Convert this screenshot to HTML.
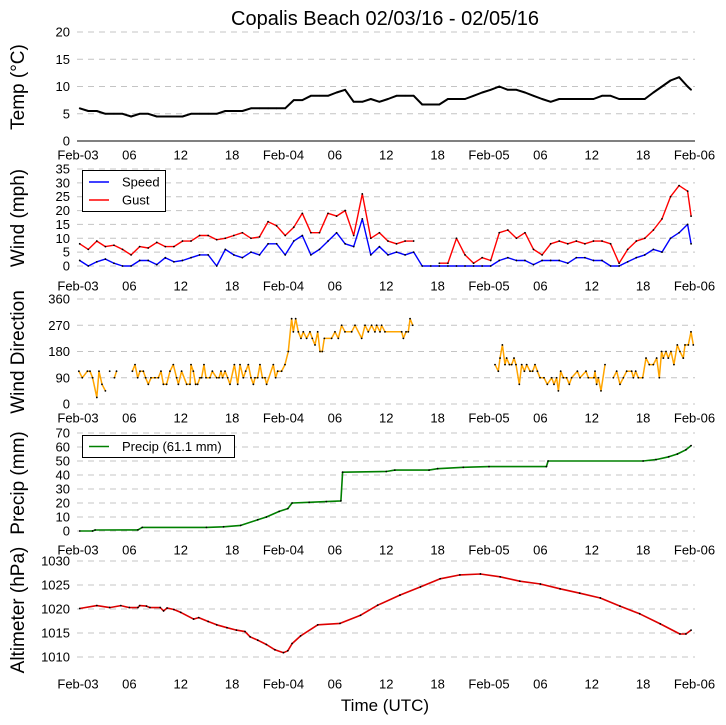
<!DOCTYPE html>
<html><head><meta charset="utf-8"><style>
html,body{margin:0;padding:0;background:#fff;}
svg{display:block;font-family:"Liberation Sans","DejaVu Sans",sans-serif;}
</style></head><body>
<svg id="chart" width="726" height="725" viewBox="0 0 726 725" xmlns="http://www.w3.org/2000/svg">
<text x="385" y="25" font-size="20" text-anchor="middle">Copalis Beach 02/03/16 - 02/05/16</text>
<text x="385" y="711" font-size="17" text-anchor="middle">Time (UTC)</text>
<g id="layer"></g>
</svg>
<script>
const xTickLabels=["Feb-03","06","12","18","Feb-04","06","12","18","Feb-05","06","12","18","Feb-06"];
const tempTicks=[0,5,10,15,20];
const windTicks=[0,5,10,15,20,25,30,35];
const dirTicks=[0,90,180,270,360];
const precipTicks=[0,10,20,30,40,50,60,70];
const altTicks=[1010,1015,1020,1025,1030];
const hours=[];
for(let i=0;i<72;i++)hours.push(i+0.2);
hours.push(71.6);
const tempValues=[6,5.5,5.5,5,5,5,4.5,5,5,4.5,4.5,4.5,4.5,5,5,5,5,5.5,5.5,5.5,6,6,6,6,6,7.5,7.5,8.3,8.3,8.3,8.9,9.4,7.2,7.2,7.7,7.2,7.7,8.3,8.3,8.3,6.7,6.7,6.7,7.7,7.7,7.7,8.3,8.9,9.4,10,9.4,9.4,8.9,8.3,7.7,7.2,7.7,7.7,7.7,7.7,7.7,8.3,8.3,7.7,7.7,7.7,7.7,8.9,10,11.1,11.7,10,9.4];
const speedValues=[2,0,1.5,2.5,1,0,0,2,2,0.5,3,1.5,2,3,4,4,0,6,4,3,5,4,8,8,4,9,11,4,6,9,12,8,7,17,4,7,4,5,4,5,0,0,0,0,0,0,0,0,0,2,3,2,2,0.5,2,2,2,1,3,3,2,2,0,0,1.5,3,4,6,5,10,12,15,8];
const gustValues=[8,6,9,7,7.5,6,4,7,6.5,8.5,7,7,9,9,11,11,9.5,10,11,12,10,10.5,16,14.5,11,14,19,12,12,19,18,20,11,26,10,12,9,8,9,9,null,null,1,1,10,4,1,3,2,12,13,10,12,6,4,8,9,8,9,8,9,9,8,1,6,9,10,13,17,25,29,27,18];
const dirData=[[0.1,112.5],[0.5,90],[1.1,112.5],[1.4,112.5],[1.7,90],[2.2,22.5],[2.45,112.5],[2.8,67.5],[3.2,45],null,[3.7,112.5],null,[4.25,90],[4.5,112.5],null,
[6.35,112.5],[6.66,135],[6.97,90],[7.24,112.5],[7.63,112.5],[7.9,90],[8.21,67.5],[8.52,90],[8.99,90],[9.38,90],[9.69,112.5],[9.97,67.5],[10.35,67.5],[10.74,112.5],[11.13,135],[11.52,90],[11.72,67.5],[12.1,112.5],[12.69,67.5],[13.08,67.5],[13.2,135],[13.47,112.5],[13.74,67.5],[13.97,67.5],[14.25,90],[14.44,90],[14.71,135],[14.95,90],[15.41,90],[15.69,112.5],[16.19,90],[16.47,90],[16.7,112.5],[16.89,90],[17.17,112.5],[17.48,90],[17.75,67.5],[18.26,135],[18.65,67.5],[18.92,135],[19.31,90],[19.58,112.5],[19.89,135],[20.2,90],[20.48,67.5],[20.67,90],[20.98,90],[21.25,135],[21.53,90],[21.84,90],[22.03,67.5],[22.81,135],[23.08,90],[23.32,112.5],[23.78,112.5],[24.17,135],[24.56,180],[24.95,292.5],[25.15,247.5],[25.42,292.5],[25.73,247.5],[26.04,225],[26.31,247.5],[26.7,225],[27.09,247.5],[27.36,225],[27.68,202.5],[27.99,247.5],[28.26,180],[28.53,180],[28.77,225],[29.62,225],[30.01,247.5],[30.4,225],[30.79,270],[31.18,247.5],[31.96,247.5],[32.35,270],[33.13,225],[33.52,270],[33.9,247.5],[34.29,270],[34.68,247.5],[34.88,270],[35.27,247.5],[35.46,270],[35.85,247.5],[37.8,247.5],[38.0,225],[38.31,247.5],[38.58,247.5],[38.78,292.5],[39.09,270],null,
[48.7,135],[49.09,112.5],[49.29,157.5],[49.56,202.5],[49.87,135],[50.06,157.5],[50.38,135],[50.65,135],[50.92,157.5],[51.15,135],[51.54,67.5],[51.82,135],[52.13,112.5],[52.4,135],[52.79,112.5],[53.1,112.5],[53.37,135],[53.65,112.5],[53.96,90],[54.42,90],[54.81,67.5],[55.32,90],[55.59,67.5],[55.9,90],[56.1,45],[56.37,112.5],[56.68,90],[57.07,90],[57.38,67.5],[57.65,90],[58.32,112.5],[58.63,90],[59.33,112.5],[59.6,90],[60.26,90],[60.38,112.5],[60.57,67.5],[60.77,90],[61.08,45],[61.55,135],null,
[62.52,90],[62.91,112.5],[63.3,67.5],[63.69,90],[64.08,112.5],[64.66,112.5],[64.86,90],[65.13,112.5],[65.44,90],[65.95,90],[66.34,157.5],[66.72,135],[67.19,135],[67.58,157.5],[67.89,90],[68.16,180],[68.36,157.5],[68.67,180],[68.94,157.5],[69.25,180],[69.6,135],[69.99,202.5],[70.3,180],[70.69,157.5],[70.89,202.5],[71.28,202.5],[71.59,247.5],[71.86,202.5]];
const precipTimes=[0.2,1.7,2,7,7.5,15,17,19,21,22,23.5,24.5,25,27,29,30.7,30.9,36,37,41,42,45,48,54.7,54.9,66,67.5,69,70,71,71.6];
const precipValues=[0,0,0.7,0.8,2.6,2.6,3,4,8,10,14,16,20,20.5,21,21.5,42,42.5,43.5,43.5,44.5,45.5,46,46,50,50,51,53,55,58,61];
const altTimes=[0.2,2.2,3.7,5,6,7,7.2,8,8.4,9.6,10,10.4,11.2,12,13.5,14.1,15.2,16.2,17.4,18.5,19.5,20.1,21,22,23,24,24.5,25,26,28,30.6,33,35,37.6,40,42.3,44.6,47,49.3,51.6,54,56.3,58.6,61,63.3,65.6,68,70.3,71,71.6];
const altValues=[1020.1,1020.7,1020.3,1020.7,1020.3,1020.3,1020.7,1020.6,1020.3,1020.3,1019.6,1020.2,1019.9,1019.3,1017.9,1018.2,1017.4,1016.7,1016.1,1015.6,1015.3,1014.2,1013.5,1012.6,1011.5,1010.9,1011.3,1012.8,1014.4,1016.7,1017,1018.7,1020.8,1022.9,1024.6,1026.3,1027.1,1027.3,1026.7,1025.8,1025.2,1024.2,1023.3,1022.3,1020.6,1019,1016.9,1014.8,1014.8,1015.6];

const NS="http://www.w3.org/2000/svg";
const layer=document.getElementById('layer');
const X0=78, PXH=205.5/24, XL=77, XR=695;
function xs(t){return X0+t*PXH;}
function mk(tag,attrs,parent){const e=document.createElementNS(NS,tag);for(const k in attrs)e.setAttribute(k,attrs[k]);(parent||layer).appendChild(e);return e;}

const panels={
 temp:{top:32,bot:141,min:0,max:20,ticks:tempTicks,xl:155,title:"Temp (°C)",tc:87},
 wind:{top:169,bot:266,min:0,max:35,ticks:windTicks,xl:286,title:"Wind (mph)",tc:218},
 dir:{top:299,bot:404,min:0,max:360,ticks:dirTicks,xl:418,title:"Wind Direction",tc:352},
 precip:{top:433,bot:531,min:0,max:70,ticks:precipTicks,xl:550,title:"Precip (mm)",tc:483},
 alt:{top:561,bot:657,min:1010,max:1030,ticks:altTicks,xl:684,title:"Altimeter (hPa)",tc:610}
};
function ys(p,v){return p.bot-(v-p.min)/(p.max-p.min)*(p.bot-p.top);}

for(const key in panels){
 const p=panels[key];
 const g=mk('g',{});
 
 
 p.ticks.forEach(v=>{
  const y=ys(p,v);
  const solid=(key==='temp'&&v===0);
  const ln=mk('line',{x1:XL,x2:XR,y1:y,y2:y,stroke:solid?'#000':'#c4c4c4','stroke-width':1,'stroke-dasharray':solid?'none':'6,5'},g);
  
  
  const tx=mk('text',{x:70,y:y+4.5,'font-size':13,'text-anchor':'end'},g);
  tx.textContent=v;
  
  
 });
 xTickLabels.forEach((lab,i)=>{
  const tx=mk('text',{x:xs(i*6),y:p.xl+4.5,'font-size':13,'text-anchor':'middle'},g);
  tx.textContent=lab;
  
  
 });
 const tt=mk('text',{x:0,y:0,'font-size':19,'text-anchor':'middle',transform:'translate(24,'+p.tc+') rotate(-90)'},g);
 tt.textContent=p.title;
 
 
}

function drawSeries(p,pts,color,name,lw){
 const g=mk('g',{});
 
 
 let seg=[];
 const segs=[];
 pts.forEach(q=>{ if(q===null||q[1]===null){if(seg.length)segs.push(seg);seg=[];} else seg.push(q);});
 if(seg.length)segs.push(seg);
 segs.forEach(s=>{
  if(s.length>1){
   const pl=mk('polyline',{points:s.map(q=>xs(q[0]).toFixed(1)+','+ys(p,q[1]).toFixed(1)).join(' '),fill:'none',stroke:color,'stroke-width':lw||1.6,'stroke-linejoin':'round'},g);
   
   
  }
  s.forEach(q=>{
   const c=mk('circle',{cx:xs(q[0]),cy:ys(p,q[1]),r:0.9,fill:'#000'},g);
   
   
  });
 });
}
drawSeries(panels.temp,hours.map((t,i)=>[t,tempValues[i]]),'#000','temp-series',2);
drawSeries(panels.wind,hours.map((t,i)=>[t,speedValues[i]]),'#0000ff','speed-series',1.4);
drawSeries(panels.wind,hours.map((t,i)=>[t,gustValues[i]]),'#ff0000','gust-series',1.4);
drawSeries(panels.dir,dirData,'#ffa500','direction-series',1.5);
drawSeries(panels.precip,precipTimes.map((t,i)=>[t,precipValues[i]]),'#008000','precip-series',1.6);
drawSeries(panels.alt,altTimes.map((t,i)=>[t,altValues[i]]),'#dd0000','altimeter-series',1.6);

const lg=mk('g',{});


mk('rect',{x:82.5,y:170.5,width:83,height:41,fill:'#fff',stroke:'#000','stroke-width':1},lg);
mk('line',{x1:89,x2:109,y1:182,y2:182,stroke:'#0000ff','stroke-width':1.5},lg);
mk('line',{x1:89,x2:109,y1:200,y2:200,stroke:'#ff0000','stroke-width':1.5},lg);
const s1=mk('text',{x:122,y:186.5,'font-size':13},lg);s1.textContent='Speed';


const s2=mk('text',{x:122,y:204.5,'font-size':13},lg);s2.textContent='Gust';


const pg=mk('g',{});


mk('rect',{x:82.5,y:435.5,width:152,height:22,fill:'#fff',stroke:'#000','stroke-width':1},pg);
mk('line',{x1:89,x2:109,y1:446.5,y2:446.5,stroke:'#008000','stroke-width':1.5},pg);
const s3=mk('text',{x:122,y:451,'font-size':13},pg);s3.textContent='Precip (61.1 mm)';


</script>
</body></html>
